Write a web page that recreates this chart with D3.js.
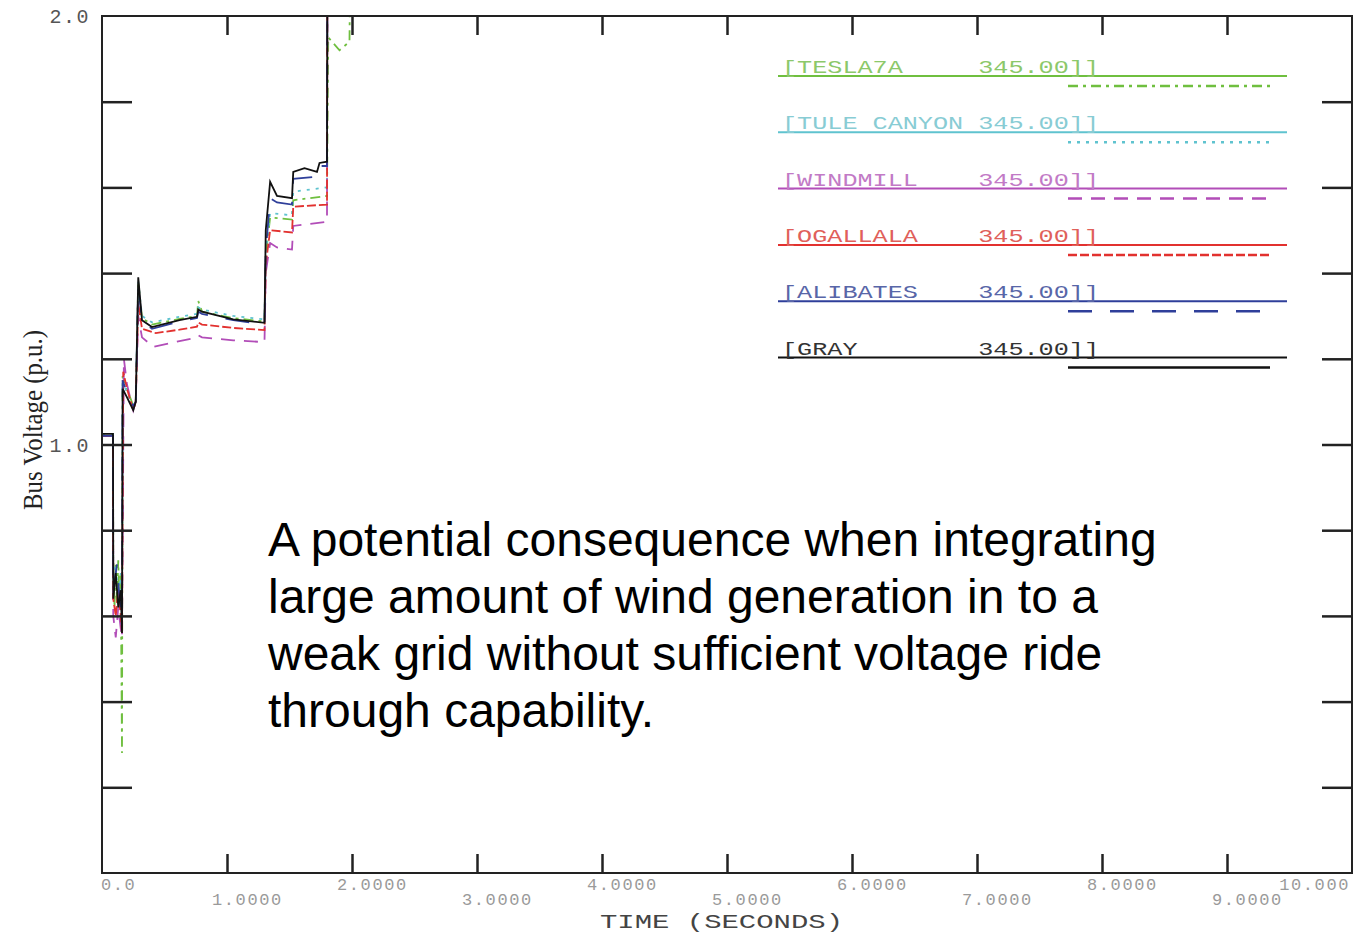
<!DOCTYPE html>
<html>
<head>
<meta charset="utf-8">
<script src="https://cdn.jsdelivr.net/npm/d3@7"></script>
<style>
  body { margin: 0; background: #fff; }
  svg { display: block; }
</style>
</head>
<body>
<svg id="chart" width="1355" height="935"></svg>
<script>
'use strict';

// axis ticks and labels
var timeTicks = [1, 2, 3, 4, 5, 6, 7, 8, 9];
var timeLabelValues = [0, 1, 2, 3, 4, 5, 6, 7, 8, 9, 10];
var timeLabels = ['0.0', '1.0000', '2.0000', '3.0000', '4.0000', '5.0000',
  '6.0000', '7.0000', '8.0000', '9.0000', '10.000'];
var voltTicks = [0.2, 0.4, 0.6, 0.8, 1.0, 1.2, 1.4, 1.6, 1.8];
var voltLabelValues = [2.0, 1.0];
var voltLabels = ['2.0', '1.0'];

// bus names, as printed in the legend
var busNames = ['[TESLA7A     345.00]]', '[TULE CANYON 345.00]]', '[WINDMILL    345.00]]',
  '[OGALLALA    345.00]]', '[ALIBATES    345.00]]', '[GRAY        345.00]]'];

// [time (s), voltage (p.u.)]
var tesla7a = [[0, 1.02], [0.088, 1.02], [0.09, 0.73], [0.1, 0.62], [0.11, 0.72], [0.12, 0.63],
  [0.13, 0.73], [0.14, 0.62], [0.15, 0.7], [0.16, 0.28], [0.165, 1.16], [0.2, 1.13],
  [0.25, 1.09], [0.27, 1.1], [0.29, 1.38], [0.32, 1.295], [0.4, 1.28], [0.62, 1.293],
  [0.76, 1.3], [0.77, 1.335], [0.8, 1.31], [1.05, 1.295], [1.3, 1.287], [1.31, 1.44],
  [1.345, 1.53], [1.52, 1.525], [1.53, 1.57], [1.8, 1.58], [1.81, 1.95], [1.9, 1.92],
  [1.98, 1.94], [1.99, 2.3]];
var tuleCanyon = [[0, 1.025], [0.088, 1.025], [0.09, 0.68], [0.11, 0.72], [0.13, 0.64],
  [0.15, 0.7], [0.16, 0.58], [0.165, 1.15], [0.2, 1.12], [0.25, 1.09], [0.27, 1.1],
  [0.29, 1.38], [0.32, 1.3], [0.4, 1.285], [0.62, 1.298], [0.76, 1.305], [0.77, 1.32],
  [0.8, 1.315], [1.05, 1.3], [1.3, 1.292], [1.31, 1.45], [1.345, 1.54], [1.52, 1.535],
  [1.53, 1.59], [1.8, 1.6], [1.805, 2.4]];
var windmill = [[0, 1.02], [0.088, 1.02], [0.09, 0.6], [0.11, 0.55], [0.13, 0.62], [0.15, 0.57],
  [0.16, 0.55], [0.175, 1.2], [0.2, 1.14], [0.25, 1.08], [0.27, 1.1], [0.29, 1.3],
  [0.32, 1.25], [0.41, 1.228], [0.6, 1.24], [0.73, 1.248], [0.77, 1.255], [0.8, 1.25],
  [1.05, 1.243], [1.3, 1.239], [1.31, 1.4], [1.345, 1.47], [1.4, 1.46], [1.52, 1.455],
  [1.53, 1.51], [1.8, 1.52], [1.805, 2.4]];
var ogallala = [[0, 1.02], [0.088, 1.02], [0.09, 0.64], [0.11, 0.6], [0.13, 0.66], [0.15, 0.6],
  [0.16, 0.56], [0.17, 1.17], [0.2, 1.13], [0.25, 1.08], [0.27, 1.1], [0.29, 1.33],
  [0.32, 1.27], [0.43, 1.26], [0.62, 1.268], [0.76, 1.275], [0.77, 1.285], [0.8, 1.28],
  [1.05, 1.272], [1.3, 1.267], [1.31, 1.42], [1.345, 1.5], [1.52, 1.495], [1.53, 1.555],
  [1.8, 1.56], [1.805, 2.4]];
var alibates = [[0, 1.02], [0.088, 1.02], [0.09, 0.66], [0.12, 0.72], [0.14, 0.64], [0.16, 0.6],
  [0.165, 1.15], [0.2, 1.12], [0.25, 1.09], [0.27, 1.1], [0.29, 1.37], [0.32, 1.29],
  [0.4, 1.27], [0.62, 1.287], [0.76, 1.295], [0.77, 1.31], [0.8, 1.305], [1.05, 1.29],
  [1.3, 1.28], [1.31, 1.45], [1.345, 1.575], [1.4, 1.565], [1.52, 1.56], [1.53, 1.62],
  [1.72, 1.625], [1.74, 1.65], [1.8, 1.65], [1.805, 2.4]];
var gray = [[0, 1.025], [0.088, 1.025], [0.09, 0.64], [0.11, 0.7], [0.13, 0.62], [0.15, 0.66],
  [0.16, 0.56], [0.165, 1.13], [0.2, 1.11], [0.25, 1.08], [0.27, 1.1], [0.29, 1.39],
  [0.32, 1.29], [0.4, 1.274], [0.62, 1.29], [0.76, 1.298], [0.77, 1.315], [0.8, 1.31],
  [1.05, 1.292], [1.3, 1.284], [1.31, 1.5], [1.345, 1.613], [1.4, 1.58], [1.52, 1.575],
  [1.53, 1.636], [1.62, 1.645], [1.72, 1.636], [1.74, 1.657], [1.8, 1.66], [1.805, 2.4]];

var seriesValues = [tesla7a, tuleCanyon, windmill, ogallala, alibates, gray];

var note = ['A potential consequence when integrating',
  'large amount of wind generation in to a',
  'weak grid without sufficient voltage ride',
  'through capability.'];

// styles per series (same order as busNames)
var lineColors = ['#6fbf3f', '#5fc3cf', '#b24db8', '#e2312f', '#2f3f9a', '#111111'];
var textColors = ['#8cc86a', '#88ccd4', '#c27ac6', '#e0605a', '#5866a8', '#333333'];
var dashes = ['10,5,3,5', '3,6', '14,9', '9,3', '24,18', null];

var margin = {left: 102, top: 16, right: 1352, bottom: 873};
var svg = d3.select('#chart');

var x = d3.scaleLinear().domain([0, 10]).range([margin.left, margin.right]);
var y = d3.scaleLinear().domain([0, 2]).range([margin.bottom, margin.top]);

svg.append('defs').append('clipPath')
  .attr('id', 'plot-clip')
  .append('rect')
  .attr('x', margin.left)
  .attr('y', margin.top)
  .attr('width', margin.right - margin.left)
  .attr('height', margin.bottom - margin.top);

// curves
var line = d3.line()
  .x(function (d) { return x(d[0]); })
  .y(function (d) { return y(d[1]); });

svg.append('g')
  .attr('class', 'curves')
  .attr('clip-path', 'url(#plot-clip)')
  .selectAll('path')
  .data(seriesValues)
  .enter().append('path')
  .attr('d', line)
  .attr('fill', 'none')
  .attr('stroke', function (d, i) { return lineColors[i]; })
  .attr('stroke-width', 1.8)
  .attr('stroke-dasharray', function (d, i) { return dashes[i]; });

// inside ticks on all four sides
function styleAxis(g) {
  g.select('.domain').remove();
  g.selectAll('.tick line').attr('stroke', '#222').attr('stroke-width', 2.5);
  g.selectAll('.tick text').remove();
}

svg.append('g')
  .attr('transform', 'translate(0,' + margin.bottom + ')')
  .call(d3.axisBottom(x).tickValues(timeTicks).tickSizeInner(-19).tickSizeOuter(0))
  .call(styleAxis);
svg.append('g')
  .attr('transform', 'translate(0,' + margin.top + ')')
  .call(d3.axisTop(x).tickValues(timeTicks).tickSizeInner(-19).tickSizeOuter(0))
  .call(styleAxis);
svg.append('g')
  .attr('transform', 'translate(' + margin.left + ',0)')
  .call(d3.axisLeft(y).tickValues(voltTicks).tickSizeInner(-30).tickSizeOuter(0))
  .call(styleAxis);
svg.append('g')
  .attr('transform', 'translate(' + margin.right + ',0)')
  .call(d3.axisRight(y).tickValues(voltTicks).tickSizeInner(-30).tickSizeOuter(0))
  .call(styleAxis);

svg.append('rect')
  .attr('x', margin.left)
  .attr('y', margin.top)
  .attr('width', margin.right - margin.left)
  .attr('height', margin.bottom - margin.top)
  .attr('fill', 'none')
  .attr('stroke', '#222')
  .attr('stroke-width', 2);

// time labels, staggered on two rows
svg.append('g')
  .selectAll('text')
  .data(timeLabelValues)
  .enter().append('text')
  .attr('x', function (d, i) {
    if (i === 0) return x(d) - 1;
    if (i === timeLabelValues.length - 1) return x(d) - 2;
    return x(d) - 15;
  })
  .attr('y', function (d, i) { return i % 2 === 0 ? 890 : 905; })
  .attr('text-anchor', function (d, i) { return i === timeLabelValues.length - 1 ? 'end' : 'start'; })
  .attr('font-family', 'Liberation Mono, monospace')
  .attr('font-size', 17)
  .attr('letter-spacing', 1.6)
  .attr('fill', '#9a9a9a')
  .text(function (d, i) { return timeLabels[i]; });

svg.append('text')
  .attr('x', 600)
  .attr('y', 928)
  .attr('textLength', 243)
  .attr('lengthAdjust', 'spacingAndGlyphs')
  .attr('font-family', 'Liberation Mono, monospace')
  .attr('font-size', 20)
  .attr('fill', '#444')
  .style('white-space', 'pre')
  .text('TIME (SECONDS)');

// voltage labels
svg.append('g')
  .selectAll('text')
  .data(voltLabelValues)
  .enter().append('text')
  .attr('x', 90)
  .attr('y', function (d) { return y(d) + 7; })
  .attr('text-anchor', 'end')
  .attr('font-family', 'Liberation Mono, monospace')
  .attr('font-size', 20)
  .attr('letter-spacing', 1.5)
  .attr('fill', '#555')
  .text(function (d, i) { return voltLabels[i]; });

svg.append('text')
  .attr('transform', 'translate(42,420) rotate(-90)')
  .attr('text-anchor', 'middle')
  .attr('textLength', 180)
  .attr('lengthAdjust', 'spacingAndGlyphs')
  .attr('font-family', 'Liberation Serif, serif')
  .attr('font-size', 27)
  .attr('fill', '#222')
  .text('Bus Voltage (p.u.)');

// legend
var legend = svg.append('g').attr('class', 'legend')
  .selectAll('g')
  .data(busNames)
  .enter().append('g')
  .attr('transform', function (d, i) { return 'translate(0,' + (76 + i * 56.3) + ')'; });

legend.append('line')
  .attr('x1', 778).attr('x2', 1287)
  .attr('stroke', function (d, i) { return lineColors[i]; })
  .attr('stroke-width', 2);

legend.append('line')
  .attr('x1', 1068).attr('x2', 1270)
  .attr('y1', 10).attr('y2', 10)
  .attr('stroke', function (d, i) { return lineColors[i]; })
  .attr('stroke-width', 2.5)
  .attr('stroke-dasharray', function (d, i) { return dashes[i]; });

legend.append('text')
  .attr('x', 782)
  .attr('y', -3)
  .attr('textLength', 317)
  .attr('lengthAdjust', 'spacingAndGlyphs')
  .attr('font-family', 'Liberation Mono, monospace')
  .attr('font-size', 19)
  .attr('fill', function (d, i) { return textColors[i]; })
  .style('white-space', 'pre')
  .text(function (d) { return d; });

// annotation
svg.append('text')
  .attr('font-family', 'Liberation Sans, Arial, sans-serif')
  .attr('font-size', 48)
  .attr('fill', '#000')
  .selectAll('tspan')
  .data(note)
  .enter().append('tspan')
  .attr('x', 268)
  .attr('y', function (d, i) { return 556 + i * 57; })
  .text(function (d) { return d; });
</script>
</body>
</html>
